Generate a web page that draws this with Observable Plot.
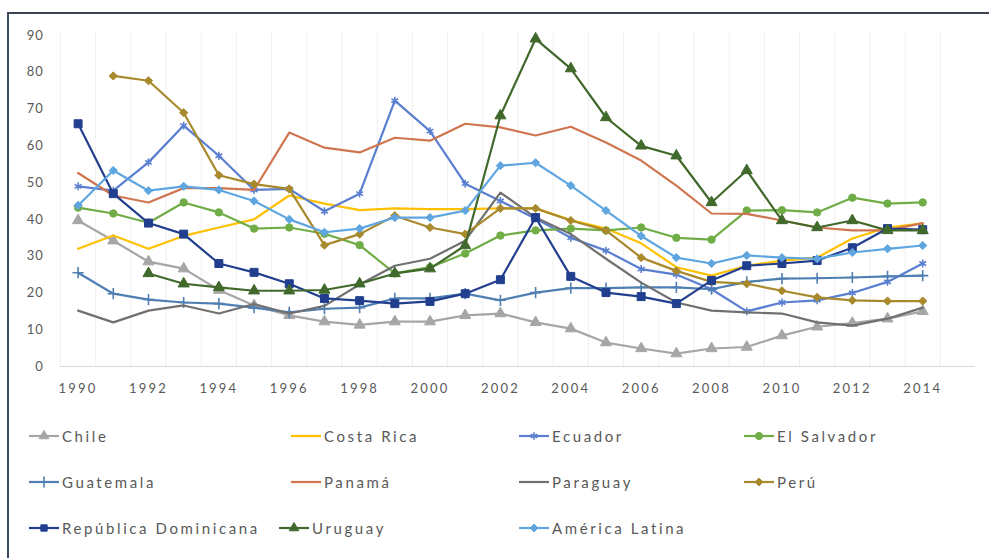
<!DOCTYPE html>
<html>
<head>
<meta charset="utf-8">
<script src="https://cdn.jsdelivr.net/npm/d3@7"></script>
<script src="https://cdn.jsdelivr.net/npm/@observablehq/plot@0.6"></script>
<style>
  html, body { margin: 0; padding: 0; background: #fff; }
  body { position: relative; width: 989px; height: 558px; overflow: hidden; font-family: Lato, "Open Sans", sans-serif; }
  #chart { position: absolute; left: 0; top: 0; }
  #frame { position: absolute; left: 7px; top: 12px; width: 990px; height: 560px; border-top: 2px solid #3b4252; border-left: 2px solid #3b4a66; pointer-events: none; box-sizing: border-box; }
  g[aria-label="x-axis tick label"] text { letter-spacing: 2.2px; }
  g[aria-label="y-axis tick label"] text { letter-spacing: 0.8px; }
  .item { position: absolute; display: flex; align-items: center; height: 20px; font-size: 15px; color: #595959; letter-spacing: 2.6px; white-space: nowrap; }
  .item svg { margin-right: 2px; }
</style>
</head>
<body>
<div id="chart"></div>
<div id="legend"></div>
<div id="frame"></div>
<script>
// ---- Data ----
const years = [1990,1991,1992,1993,1994,1995,1996,1997,1998,1999,2000,2001,2002,2003,2004,2005,2006,2007,2008,2009,2010,2011,2012,2013,2014];
const xTickYears = [1990,1992,1994,1996,1998,2000,2002,2004,2006,2008,2010,2012,2014];
const yTicks = [0,10,20,30,40,50,60,70,80,90];

const seriesNames = ["Chile","Costa Rica","Ecuador","El Salvador","Guatemala","Panamá","Paraguay","Perú","República Dominicana","Uruguay","América Latina"];

const chile         = [39.7,34.2,28.5,26.6,20.8,16.6,13.9,12.2,11.3,12.2,12.2,13.9,14.4,12.0,10.3,6.5,4.9,3.5,4.9,5.3,8.4,10.8,11.8,13.0,15.0];
const costaRica     = [32.0,35.6,32.0,35.5,37.8,40.0,46.5,44.3,42.5,43.0,42.8,42.8,43.0,43.0,39.8,37.5,33.5,27.0,24.7,27.4,28.8,29.6,34.8,37.8,38.9];
const ecuador       = [49.0,47.8,55.5,65.5,57.3,48.0,48.3,42.2,47.0,72.3,64.0,49.7,45.0,40.2,35.0,31.5,26.5,25.0,21.0,15.0,17.4,18.0,20.0,23.0,28.0];
const elSalvador    = [43.2,41.6,39.1,44.6,41.9,37.5,37.8,36.1,33.0,25.3,27.0,30.7,35.6,37.0,37.5,37.0,37.8,35.0,34.5,42.4,42.5,41.9,45.9,44.3,44.6];
const guatemala     = [25.5,19.8,18.2,17.4,17.1,16.0,14.7,15.7,16.0,18.5,18.5,19.8,18.0,20.1,21.3,21.3,21.5,21.5,21.0,23.0,23.9,24.0,24.2,24.5,24.7];
const panama        = [52.6,46.5,44.6,48.5,48.5,48.0,63.6,59.5,58.2,62.2,61.4,66.0,65.0,62.8,65.2,60.9,56.0,49.2,41.6,41.5,39.7,37.8,37.0,37.0,39.0];
const paraguay      = [15.2,12.0,15.2,16.6,14.4,17.0,14.4,16.5,22.3,27.4,29.3,34.2,47.3,40.5,36.0,29.3,22.8,17.4,15.2,14.7,14.4,12.0,11.1,13.0,16.0];
const peru          = [null,79.0,77.7,69.0,52.0,49.6,48.3,33.0,36.0,41.0,37.8,36.0,43.0,43.0,39.7,37.0,29.6,26.0,23.0,22.5,20.6,18.8,18.0,17.8,17.8];
const repDominicana = [66.0,47.0,39.0,36.0,28.0,25.6,22.5,18.5,17.9,17.1,17.7,19.8,23.6,40.5,24.5,20.1,19.0,17.1,23.4,27.4,28.0,28.8,32.3,37.5,37.2];
const uruguay       = [null,null,25.3,22.5,21.5,20.6,20.6,20.8,22.5,25.3,26.6,32.9,68.2,89.1,81.0,67.7,60.0,57.3,44.6,53.3,39.7,37.8,39.7,37.0,37.0];
const americaLatina = [43.8,53.3,47.8,49.0,48.0,45.0,40.0,36.5,37.5,40.5,40.5,42.4,54.6,55.4,49.2,42.4,35.5,29.6,28.0,30.2,29.6,29.3,31.0,32.0,32.9];

const seriesValues = [chile,costaRica,ecuador,elSalvador,guatemala,panama,paraguay,peru,repDominicana,uruguay,americaLatina];

// ---- Styles ----
const colors  = ["#a6a6a6","#ffc000","#5a7fd0","#70ad47","#4f7fb2","#cf7550","#707070","#a8892c","#213f8e","#41692c","#5fa6e0"];
const symbols = ["triangle","none","asterisk","circle","plus","none","none","diamond2","square","triangle","diamond2"];

// table
const table = [];
seriesNames.forEach((name, si) => {
  seriesValues[si].forEach((v, i) => {
    if (v != null) table.push({series: name, year: years[i], value: v});
  });
});

const boundaries = years.concat([years[years.length-1] + 1]).map(y => y - 0.5);

const marks = [
  Plot.ruleX(boundaries, {y1: 0, y2: 91, stroke: "#efefef", strokeWidth: 1}),
  Plot.ruleY([0], {x1: boundaries[0], x2: boundaries[boundaries.length-1] + 1, stroke: "#d9d9d9", strokeWidth: 1}),
  Plot.axisX({ticks: xTickYears, tickSize: 0, tickPadding: 17, tickFormat: d => String(d), fontSize: 13, label: null}),
  Plot.axisY({ticks: yTicks, tickSize: 0, tickPadding: 17, fontSize: 13, label: null})
];

seriesNames.forEach((name, si) => {
  const data = table.filter(d => d.series === name);
  marks.push(Plot.line(data, {x: "year", y: "value", stroke: colors[si], strokeWidth: 2.2}));
  const sym = symbols[si];
  if (sym !== "none") {
    const hollow = sym === "asterisk" || sym === "plus";
    const r = sym === "square" ? 4.5 : sym === "triangle" ? 4.1 : 3.7;
    marks.push(Plot.dot(data, {
      x: "year", y: "value", symbol: () => sym, r,
      fill: hollow ? "none" : colors[si],
      stroke: colors[si], strokeWidth: hollow ? 1.6 : 1
    }));
  }
});

const chart = Plot.plot({
  width: 989,
  height: 410,
  marginLeft: 60,
  marginRight: 1,
  marginTop: 35,
  marginBottom: 44,
  style: {fontFamily: "Lato, 'Open Sans', sans-serif", color: "#595959", background: "transparent", overflow: "visible"},
  x: {domain: [1989.5, 2015.5], range: [60, 975], axis: null},
  y: {domain: [0, 90], range: [366, 35], axis: null},
  symbol: {type: "identity"},
  marks
});
document.getElementById("chart").appendChild(chart);

// ---- Legend ----
const legendPos = [
  [28, 436],[290, 436],[518, 436],[743, 436],
  [28, 482],[290, 482],[518, 482],[743, 482],
  [28, 528],[278, 528],[518, 528]
];
const legend = document.getElementById("legend");
seriesNames.forEach((name, si) => {
  const item = document.createElement("div");
  item.className = "item";
  item.style.left = legendPos[si][0] + "px";
  item.style.top = (legendPos[si][1] - 10) + "px";
  const svg = d3.create("svg").attr("width", 32).attr("height", 16);
  svg.append("line").attr("x1", 1).attr("x2", 31).attr("y1", 8).attr("y2", 8)
     .attr("stroke", colors[si]).attr("stroke-width", 2.2);
  const sym = symbols[si];
  const symMap = {triangle: d3.symbolTriangle, asterisk: d3.symbolAsterisk, circle: d3.symbolCircle, plus: d3.symbolPlus, diamond2: d3.symbolDiamond2, square: d3.symbolSquare};
  if (sym !== "none") {
    const hollow = sym === "asterisk" || sym === "plus";
    svg.append("path").attr("transform", "translate(16,8)")
      .attr("d", d3.symbol(symMap[sym], 40)())
      .attr("fill", hollow ? "none" : colors[si])
      .attr("stroke", colors[si]).attr("stroke-width", hollow ? 1.6 : 1);
  }
  item.appendChild(svg.node());
  const span = document.createElement("span");
  span.textContent = name;
  item.appendChild(span);
  legend.appendChild(item);
});
</script>
</body>
</html>
